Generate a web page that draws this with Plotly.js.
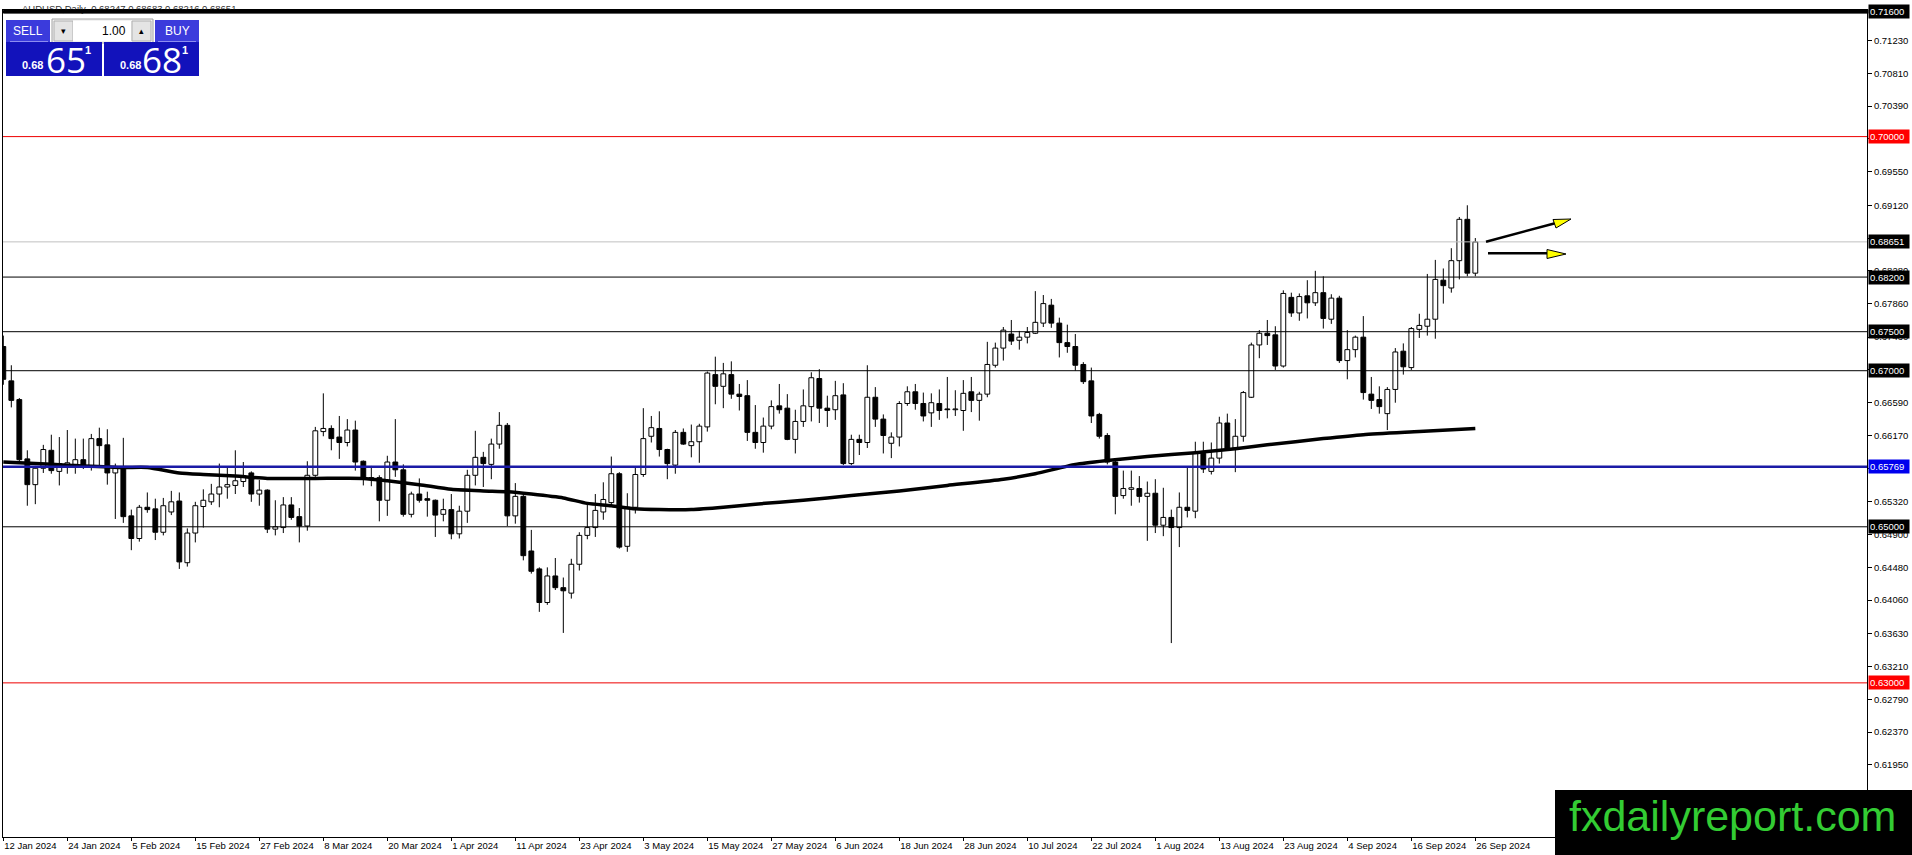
<!DOCTYPE html>
<html><head><meta charset="utf-8">
<script src="https://cdn.plot.ly/plotly-3.0.1.min.js"></script>
<style>html,body{margin:0;padding:0;background:#fff;overflow:hidden}#chart{width:1912px;height:855px}</style>
</head><body><div id="chart"></div>
<script>
// ---------- DATA ----------
const startDate = '2024-01-12';
const barCount = 185;
const opens = [
.6731,.6687,.6663,.6587,.6554,.6575,.6598,.6571,.6580,.6580,
.6586,.6577,.6613,.6605,.6569,.6575,.6514,.6485,.6525,.6523,
.6493,.6519,.6533,.6454,.6492,.6526,.6532,.6542,.6551,.6553,
.6558,.6569,.6542,.6547,.6497,.6499,.6528,.6513,.6501,.6566,
.6622,.6626,.6615,.6608,.6624,.6584,.6563,.6563,.6534,.6583,
.6573,.6516,.6542,.6536,.6534,.6516,.6522,.6491,.6520,.6566,
.6589,.6580,.6606,.6630,.6514,.6539,.6469,.6446,.6403,.6437,
.6422,.6415,.6452,.6489,.6499,.6519,.6531,.6568,.6475,.6525,
.6567,.6616,.6626,.6599,.6579,.6621,.6604,.6609,.6628,.6695,
.6680,.6695,.6670,.6668,.6621,.6608,.6629,.6655,.6652,.6612,
.6635,.6654,.6690,.6652,.6650,.6669,.6581,.6612,.6608,.6666,
.6638,.6607,.6615,.6658,.6673,.6658,.6646,.6658,.6651,.6650,
.6649,.6673,.6662,.6670,.6707,.6729,.6747,.6739,.6743,.6748,
.6761,.6784,.6761,.6736,.6731,.6708,.6687,.6644,.6617,.6583,
.6540,.6548,.6549,.6539,.6543,.6502,.6512,.6499,.6525,.6520,
.6594,.6571,.6588,.6633,.6601,.6616,.6666,.6733,.6748,.6746,
.6706,.6794,.6774,.6796,.6787,.6800,.6766,.6793,.6713,.6727,
.6743,.6670,.6663,.6645,.6676,.6725,.6704,.6753,.6757,.6766,
.6816,.6806,.6841,.6894,.6825];
const highs = [
.6745,.6707,.6665,.6598,.6578,.6605,.6618,.6615,.6624,.6613,
.6613,.6619,.6627,.6625,.6581,.6614,.6522,.6528,.6544,.6536,
.6537,.6546,.6544,.6498,.6532,.6548,.6555,.6581,.6577,.6598,
.6583,.6571,.6560,.6548,.6534,.6538,.6538,.6524,.6584,.6628,
.6671,.6630,.6642,.6638,.6636,.6585,.6578,.6566,.6591,.6638,
.6580,.6545,.6562,.6545,.6535,.6536,.6542,.6527,.6573,.6623,
.6596,.6613,.6647,.6633,.6556,.6543,.6496,.6448,.6448,.6460,
.6435,.6459,.6493,.6530,.6542,.6557,.6590,.6570,.6543,.6577,
.6652,.6642,.6648,.6600,.6624,.6626,.6631,.6632,.6699,.6718,
.6710,.6712,.6683,.6688,.6656,.6640,.6662,.6683,.6670,.6650,
.6676,.6698,.6702,.6668,.6687,.6684,.6618,.6618,.6707,.6679,
.6644,.6621,.6661,.6680,.6683,.6672,.6671,.6676,.6692,.6675,
.6688,.6692,.6673,.6737,.6736,.6756,.6765,.6751,.6756,.6802,
.6797,.6792,.6768,.6759,.6747,.6711,.6704,.6646,.6620,.6586,
.6572,.6572,.6565,.6558,.6561,.6550,.6522,.6544,.6577,.6609,
.6609,.6608,.6641,.6645,.6638,.6674,.6736,.6752,.6765,.6757,
.6803,.6800,.6799,.6816,.6828,.6821,.6798,.6796,.6752,.6745,
.6770,.6692,.6680,.6679,.6729,.6735,.6756,.6773,.6824,.6842,
.6831,.6857,.6897,.6912,.6870];
const lows = [
.6682,.6653,.6582,.6527,.6529,.6569,.6568,.6553,.6568,.6568,
.6574,.6572,.6579,.6554,.6510,.6505,.6470,.6481,.6518,.6483,
.6489,.6515,.6446,.6449,.6480,.6499,.6528,.6525,.6536,.6542,
.6551,.6532,.6527,.6492,.6489,.6492,.6509,.6480,.6495,.6564,
.6616,.6598,.6587,.6603,.6572,.6553,.6552,.6507,.6514,.6564,
.6513,.6512,.6531,.6513,.6487,.6507,.6484,.6485,.6505,.6553,
.6551,.6561,.6600,.6501,.6504,.6457,.6440,.6391,.6400,.6419,
.6364,.6408,.6444,.6484,.6487,.6509,.6526,.6472,.6468,.6517,
.6564,.6608,.6590,.6561,.6568,.6605,.6589,.6582,.6622,.6657,
.6652,.6664,.6649,.6610,.6600,.6595,.6625,.6645,.6611,.6594,
.6628,.6635,.6633,.6628,.6637,.6579,.6579,.6592,.6601,.6628,
.6594,.6588,.6603,.6655,.6650,.6635,.6628,.6637,.6639,.6642,
.6623,.6647,.6636,.6666,.6704,.6713,.6733,.6727,.6735,.6747,
.6756,.6755,.6717,.6723,.6700,.6683,.6633,.6613,.6580,.6516,
.6536,.6527,.6531,.6482,.6492,.6488,.6351,.6474,.6512,.6511,
.6569,.6567,.6581,.6600,.6570,.6609,.6665,.6716,.6733,.6701,
.6704,.6769,.6764,.6767,.6783,.6754,.6760,.6710,.6689,.6717,
.6663,.6651,.6645,.6624,.6659,.6695,.6701,.6742,.6745,.6741,
.6786,.6800,.6817,.6821,.6821];
const closes = [
.6689,.6662,.6586,.6554,.6575,.6599,.6572,.6581,.6582,.6586,
.6577,.6613,.6604,.6569,.6575,.6513,.6485,.6525,.6522,.6493,
.6527,.6532,.6455,.6492,.6527,.6534,.6542,.6551,.6554,.6559,
.6565,.6542,.6547,.6497,.6500,.6528,.6512,.6501,.6566,.6623,
.6626,.6613,.6608,.6624,.6583,.6563,.6562,.6534,.6583,.6573,
.6516,.6542,.6534,.6534,.6515,.6522,.6491,.6520,.6566,.6589,
.6581,.6606,.6630,.6514,.6539,.6463,.6443,.6403,.6437,.6422,
.6418,.6452,.6489,.6499,.6521,.6535,.6568,.6474,.6525,.6567,
.6613,.6627,.6599,.6581,.6621,.6606,.6609,.6629,.6697,.6680,
.6696,.6670,.6667,.6621,.6608,.6629,.6654,.6650,.6612,.6635,
.6655,.6691,.6652,.6649,.6668,.6581,.6612,.6608,.6666,.6638,
.6617,.6615,.6658,.6673,.6658,.6642,.6659,.6649,.6650,.6651,
.6671,.6662,.6670,.6708,.6729,.6752,.6738,.6743,.6749,.6762,
.6786,.6761,.6736,.6731,.6707,.6686,.6642,.6616,.6583,.6539,
.6549,.6550,.6539,.6543,.6502,.6512,.6499,.6525,.6521,.6594,
.6574,.6588,.6633,.6601,.6616,.6672,.6733,.6748,.6745,.6706,
.6799,.6774,.6795,.6787,.6800,.6767,.6793,.6713,.6727,.6743,
.6672,.6662,.6654,.6676,.6724,.6705,.6754,.6758,.6766,.6817,
.6809,.6841,.6894,.6825,.6865];
// moving average read at selected bars
const maBars   = [0,6,10,15,18,22,25,29,33,39,45,48,52,56,60,63,66,70,73,76,79,82,86,90,94,100,106,112,118,125,129,134,138,143,149,154,158,165,170,177,184];
const maValues = [.6583,.6580,.6578,.6576,.6576,.6569,.6567,.6565,.6562,.6562,.6562,.6559,.6554,.6548,.6546,.6545,.6542,.6537,.6530,.6527,.6523,.6522,.6522,.6525,.6529,.6534,.6540,.6546,.6553,.6561,.6568,.6580,.6585,.6590,.6595,.6600,.6605,.6613,.6618,.6622,.6626];
const tickLabels = ['12 Jan 2024','24 Jan 2024','5 Feb 2024','15 Feb 2024','27 Feb 2024','8 Mar 2024','20 Mar 2024','1 Apr 2024','11 Apr 2024','23 Apr 2024','3 May 2024','15 May 2024','27 May 2024','6 Jun 2024','18 Jun 2024','28 Jun 2024','10 Jul 2024','22 Jul 2024','1 Aug 2024','13 Aug 2024','23 Aug 2024','4 Sep 2024','16 Sep 2024','26 Sep 2024'];
const priceTicks = [0.7123,0.7081,0.7039,0.6997,0.6955,0.6912,0.6870,0.6828,0.6786,0.6743,0.6701,0.6659,0.6617,0.6575,0.6532,0.6490,0.6448,0.6406,0.6363,0.6321,0.6279,0.6237,0.6195];
const levelPrices = [0.716, 0.70, 0.68651, 0.682, 0.675, 0.67, 0.65769, 0.65, 0.63];
const levelKinds  = ['thick','red','bid','black','black','black','blue','black','red'];
const headerText = 'AUDUSD,Daily  0.68247 0.68683 0.68216 0.68651';

// ---------- BUILD ----------
function weekdays(start, n){
  const out=[]; const d=new Date(start+'T00:00:00Z');
  while(out.length<n){ const w=d.getUTCDay(); if(w!==0&&w!==6) out.push(d.toISOString().slice(0,10)); d.setUTCDate(d.getUTCDate()+1); }
  return out;
}
const dates = weekdays(startDate, barCount);

const wx=[], wy=[];
for(let i=0;i<barCount;i++){
  const top=Math.max(opens[i],closes[i]), bot=Math.min(opens[i],closes[i]);
  wx.push(dates[i],dates[i],null,dates[i],dates[i],null);
  wy.push(highs[i],top,null,bot,lows[i],null);
}
const bodyH = dates.map((d,i)=>Math.abs(closes[i]-opens[i]));
const bodyB = dates.map((d,i)=>Math.min(closes[i],opens[i]));
const bodyC = dates.map((d,i)=>closes[i]>=opens[i]?'#ffffff':'#000000');

const traces = [
  {type:'bar', x:dates, y:bodyH, base:bodyB, width:0.6,
   marker:{color:bodyC, line:{color:'#000', width:1}}, hoverinfo:'skip'},
  {type:'scatter', mode:'lines', x:wx, y:wy, line:{color:'#000', width:1}, hoverinfo:'skip', connectgaps:false},
  {type:'scatter', mode:'lines', x:maBars.map(i=>dates[i]), y:maValues, line:{color:'#000', width:3.5, shape:'spline', smoothing:0.6}, hoverinfo:'skip'}
];

// pixel helpers (plot area: x 3..1867, y 10..837)
const PL=3, PW=1864, PB=837, PH=827;
const px = x => (x-PL)/PW;
const py = y => (PB-y)/PH;

const styles = {
  thick:{color:'#000', width:3, bg:'#000'},
  red:{color:'#ee0000', width:1, bg:'#ff0000'},
  bid:{color:'#c0c0c0', width:1, bg:'#000'},
  black:{color:'#000', width:1, bg:'#000'},
  blue:{color:'#1a1aa6', width:2.5, bg:'#0000ee'}
};
const shapes = [];
const annotations = [];

// header text first so that the thick line annotation covers its lower part
annotations.push({xref:'paper', yref:'paper', x:px(20), y:py(8.5), text:headerText, showarrow:false,
  xanchor:'left', yanchor:'middle', font:{family:'Liberation Sans, Arial', size:9.5, color:'#333'}});
annotations.push({xref:'paper', yref:'y', x:0, y:0.716, xanchor:'left', yanchor:'middle', showarrow:false,
  text:' ', font:{size:1}, bgcolor:'#000', width:PW, height:3, borderpad:0});

levelPrices.forEach((p,k)=>{
  const s = styles[levelKinds[k]];
  shapes.push({type:'line', xref:'paper', yref:'y', x0:0, x1:1, y0:p, y1:p, line:{color:s.color, width:s.width}});
  annotations.push({xref:'paper', yref:'y', x:px(1868), y:p, xanchor:'left', yanchor:'middle', showarrow:false,
    text:p.toFixed(5), bgcolor:s.bg, font:{family:'Liberation Sans, Arial', size:9.5, color:'#fff'},
    width:38, height:11, borderpad:1, align:'left'});
});

// arrows
shapes.push({type:'line', xref:'paper', yref:'paper', x0:px(1486), y0:py(241.7), x1:px(1556), y1:py(223), line:{color:'#000', width:2.5}});
shapes.push({type:'path', xref:'paper', yref:'paper',
  path:`M ${px(1553)} ${py(219.5)} L ${px(1571)} ${py(219)} L ${px(1556)} ${py(228)} Z`, fillcolor:'#ffff00', line:{color:'#000', width:1}});
shapes.push({type:'line', xref:'paper', yref:'paper', x0:px(1488), y0:py(253.3), x1:px(1549), y1:py(253.3), line:{color:'#000', width:2.5}});
shapes.push({type:'path', xref:'paper', yref:'paper',
  path:`M ${px(1547)} ${py(249.5)} L ${px(1566)} ${py(254)} L ${px(1547)} ${py(258.5)} Z`, fillcolor:'#ffff00', line:{color:'#000', width:1}});

// trade panel
function rect(x0,y0,x1,y1,fill,lc,lw){ shapes.push({type:'rect', xref:'paper', yref:'paper', x0:px(x0), x1:px(x1), y0:py(y1), y1:py(y0), fillcolor:fill, line:{color:lc||fill, width:lw||0}}); }
rect(6,20,50,42,'#3b3bdc');
rect(155,20,199,42,'#3b3bdc');
rect(52,19,153,43,'#f2f2f2','#a0a0a0',1);
rect(54,21,73,41,'#e4e4e4','#b0b0b0',1);
rect(73,21,131,41,'#ffffff');
rect(132,21,151,41,'#e4e4e4','#b0b0b0',1);
rect(6,42,102,76,'#1212bb');
rect(104,42,199,76,'#1212bb');
shapes.push({type:'line', xref:'paper', yref:'paper', x0:px(10), x1:px(48), y0:py(41.5), y1:py(41.5), line:{color:'#8c8cf0', width:1}});
shapes.push({type:'line', xref:'paper', yref:'paper', x0:px(158), x1:px(196), y0:py(41.5), y1:py(41.5), line:{color:'#8c8cf0', width:1}});

function txt(x,y,t,size,color,anchor,bold,fam){
  annotations.push({xref:'paper', yref:'paper', x:px(x), y:py(y), text:bold?'<b>'+t+'</b>':t, showarrow:false,
    xanchor:anchor||'center', yanchor:'middle', font:{family:fam||'Liberation Sans, Arial', size:size, color:color}});
}
txt(28,31,'SELL',12,'#fff');
txt(177,31,'BUY',12,'#fff');
txt(63,31,'▾',9,'#000');
txt(141,31,'▴',9,'#000');
txt(128,31,'1.00',12,'#000','right');
txt(32,65,'0.68',11,'#fff','center',true);
txt(66,59,'65',35,'#fff','center',false,'Open Sans, Liberation Sans');
txt(88,50,'1',11,'#fff','center',true);
txt(130,65,'0.68',11,'#fff','center',true);
txt(162,59,'68',35,'#fff','center',false,'Open Sans, Liberation Sans');
txt(185,50,'1',11,'#fff','center',true);

// watermark
shapes.push({type:'rect', xref:'paper', yref:'paper', x0:px(1555), x1:px(1914), y0:py(857), y1:py(790), fillcolor:'#000', line:{width:0}});
txt(1732,816,'fxdailyreport.com',43,'#33cc33','center',false,'Liberation Sans, Arial');

const xTickVals = tickLabels.map((t,k)=>dates[k*8]);

const layout = {
  width:1912, height:855, margin:{l:PL, r:1912-PL-PW, t:10, b:855-PB, pad:0},
  paper_bgcolor:'#fff', plot_bgcolor:'#fff', showlegend:false, hovermode:false, bargap:0,
  xaxis:{type:'category', range:[-0.04, 232.96], showgrid:false, zeroline:false, showline:true, linecolor:'#000', linewidth:1, mirror:true,
    ticks:'outside', ticklen:3, tickcolor:'#000', tickvals:xTickVals, ticktext:tickLabels, ticklabelposition:'outside right',
    tickfont:{family:'Liberation Sans, Arial', size:9.5, color:'#000'}, fixedrange:true, automargin:false},
  yaxis:{side:'right', range:[0.61025, 0.716222], showgrid:false, zeroline:false, showline:true, linecolor:'#000', linewidth:1, mirror:true,
    ticks:'outside', ticklen:4, tickcolor:'#000', tickvals:priceTicks, ticktext:priceTicks.map(v=>v.toFixed(5)),
    tickfont:{family:'Liberation Sans, Arial', size:9.5, color:'#000'}, fixedrange:true, automargin:false},
  shapes:shapes, annotations:annotations
};
Plotly.newPlot('chart', traces, layout, {displayModeBar:false, staticPlot:true});
</script></body></html>
